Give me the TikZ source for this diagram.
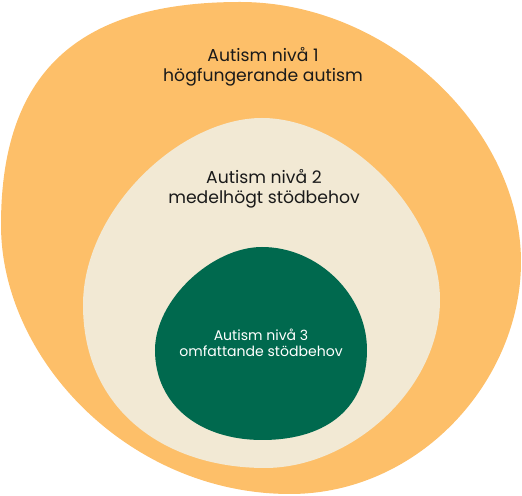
\documentclass[tikz,border=0pt]{standalone}
\usepackage{fontspec}
\setmainfont{Poppins}
\definecolor{nivaorange}{HTML}{FDBF69}
\definecolor{nivacream}{HTML}{F2E9D4}
\definecolor{nivagreen}{HTML}{00694E}
\definecolor{nivatext}{HTML}{1A1A1A}
\tikzset{
  label/.style={shape=rectangle, draw=none, align=center, inner sep=0pt}
}
\begin{document}
\begin{tikzpicture}[thick, x=0.02cm, y=-0.02cm]
%%%%%%%%%%%%%%%%%%%%%%%%%%%%%%%%%%%%%%%%%%% HELP LINES
%\draw[help lines, step=20] (0,0) grid (522,496);
\useasboundingbox (0,0) rectangle (522,496);

%%%%%%%%%%%%%%%%%%%%%%%%%%%%%%%%%%%%%%%%%%% elements
% level 1
\fill[nivaorange] (240,2) .. controls (75,2) and (1,75) .. (1,225)
  .. controls (1,360) and (130,494) .. (290,494)
  .. controls (420,494) and (521,380) .. (521,262)
  .. controls (521,130) and (390,2) .. cycle;
% level 2
\fill[nivacream] (262,118) .. controls (180,118) and (83,210) .. (83,305)
  .. controls (83,410) and (165,468) .. (265,468)
  .. controls (350,468) and (440,390) .. (440,300)
  .. controls (440,210) and (345,118) .. cycle;
% level 3
\fill[nivagreen] (262,247) .. controls (212,247) and (155,300) .. (155,350)
  .. controls (155,405) and (200,440) .. (262,440)
  .. controls (330,440) and (367,405) .. (367,350)
  .. controls (367,295) and (318,247) .. cycle;

%%%%% labels
\node[label, font=\fontsize{9.8}{11.3}\selectfont, text=nivatext](niva1) at (263,67){Autism nivå 1\\högfungerande autism};
\node[label, font=\fontsize{9.8}{11.3}\selectfont, text=nivatext](niva2) at (264,189){Autism nivå 2\\medelhögt stödbehov};
\node[label, font=\fontsize{8}{9.2}\selectfont, text=white](niva3) at (261,343){Autism nivå 3\\omfattande stödbehov};
\end{tikzpicture}
\end{document}
